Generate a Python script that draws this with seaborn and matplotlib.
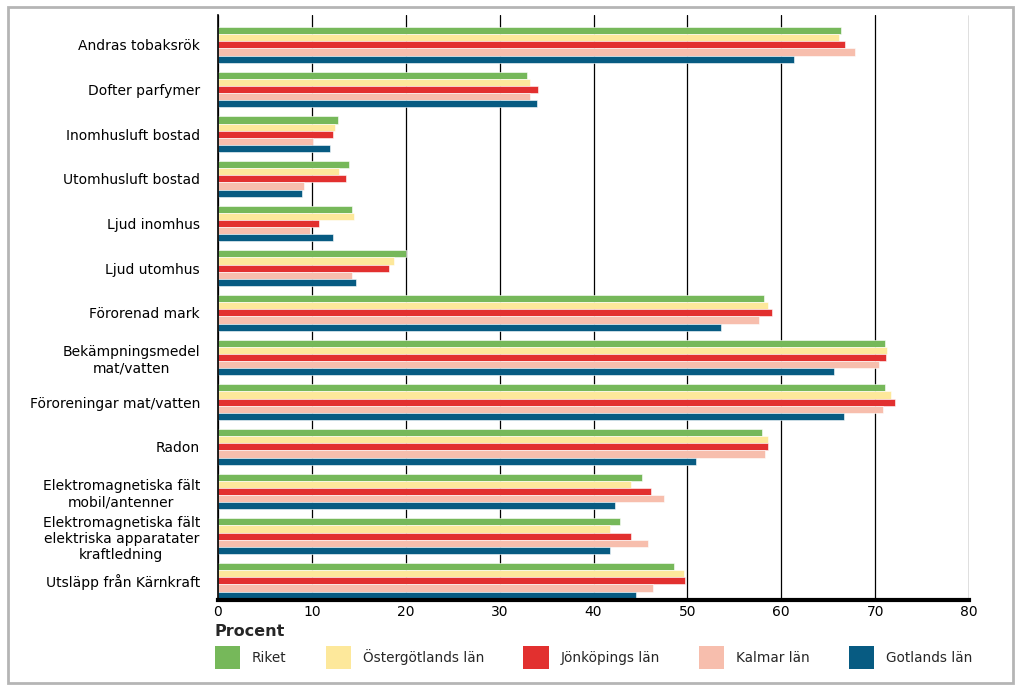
import pandas as pd
import numpy as np
import matplotlib
matplotlib.use("Agg")
import matplotlib.pyplot as plt
import seaborn as sns
from matplotlib.patches import Patch, Rectangle

categories = ["Andras tobaksrök", "Dofter parfymer", "Inomhusluft bostad",
              "Utomhusluft bostad", "Ljud inomhus", "Ljud utomhus",
              "Förorenad mark", "Bekämpningsmedel\nmat/vatten",
              "Föroreningar mat/vatten", "Radon",
              "Elektromagnetiska fält\nmobil/antenner",
              "Elektromagnetiska fält\nelektriska apparatater\nkraftledning",
              "Utsläpp från Kärnkraft"]
series = ["Riket", "Östergötlands län", "Jönköpings län", "Kalmar län", "Gotlands län"]

riket = [66.4, 32.9, 12.8, 14.0, 14.3, 20.0, 58.2, 71.1, 71.1, 57.9, 45.2, 42.8, 48.6]
ostergotland = [66.1, 33.2, 12.5, 12.9, 14.5, 18.8, 58.6, 71.3, 71.7, 58.6, 44.0, 41.8, 49.6]
jonkoping = [66.8, 34.1, 12.3, 13.6, 10.8, 18.2, 59.0, 71.2, 72.1, 58.6, 46.1, 44.0, 49.7]
kalmar = [67.9, 33.2, 10.1, 9.2, 9.8, 14.3, 57.6, 70.4, 70.8, 58.3, 47.5, 45.8, 46.3]
gotland = [61.4, 34.0, 11.9, 8.9, 12.3, 14.7, 53.6, 65.6, 66.7, 50.9, 42.3, 41.8, 44.5]

colors = ["#76b85a", "#fde89b", "#e2302f", "#f7bead", "#075b82"]

df = pd.DataFrame({"Kategori": categories, "Riket": riket,
                   "Östergötlands län": ostergotland, "Jönköpings län": jonkoping,
                   "Kalmar län": kalmar, "Gotlands län": gotland})
df = df.melt(id_vars="Kategori", var_name="Län", value_name="Procent")

sns.set_style("white")
plt.rcParams["font.family"] = ["DejaVu Sans"]

fig = plt.figure(figsize=(10.24, 6.9), dpi=100)
ax = fig.add_axes([218/1024, 90/690, 751/1024, 585/690])

sns.barplot(data=df, y="Kategori", x="Procent", hue="Län", hue_order=series,
            palette=colors, orient="h", width=0.8, edgecolor="white",
            linewidth=0.4, saturation=1, ax=ax, legend=False)

ax.set_xlim(0, 80)
ax.set_ylim(12.43, -0.67)
ax.set_xticks(range(0, 81, 10))
ax.xaxis.grid(True, color="black", linewidth=0.9)
ax.yaxis.grid(False)
ax.set_axisbelow(True)
ax.set_xlabel("")
ax.set_ylabel("")
for s in ["top", "right"]:
    ax.spines[s].set_visible(False)
ax.spines["left"].set_color("black")
ax.spines["left"].set_linewidth(1.2)
ax.spines["bottom"].set_color("black")
ax.spines["bottom"].set_linewidth(3)
ax.tick_params(axis="both", length=0, labelsize=10, colors="black")
ax.tick_params(axis="y", pad=13)
for lab in ax.get_yticklabels():
    lab.set_multialignment("center")

fig.text(215/1024, 1 - 631/690, "Procent", fontsize=11.5, fontweight="bold",
         va="center", ha="left")

handles = [Patch(facecolor=c, edgecolor="none") for c in colors]
fig.legend(handles, series, loc="upper left", bbox_to_anchor=(215/1024, 1 - 646/690),
           ncol=5, frameon=False, fontsize=9.8, handlelength=1.85, handleheight=2.2,
           columnspacing=2.9, handletextpad=0.85, borderpad=0, borderaxespad=0)

fig.patches.append(Rectangle((8/1024, 7/690), 1005/1024, 676/690, transform=fig.transFigure,
                             fill=False, edgecolor="#b5b5b5", linewidth=2))

fig.savefig("out.png", dpi=100)
